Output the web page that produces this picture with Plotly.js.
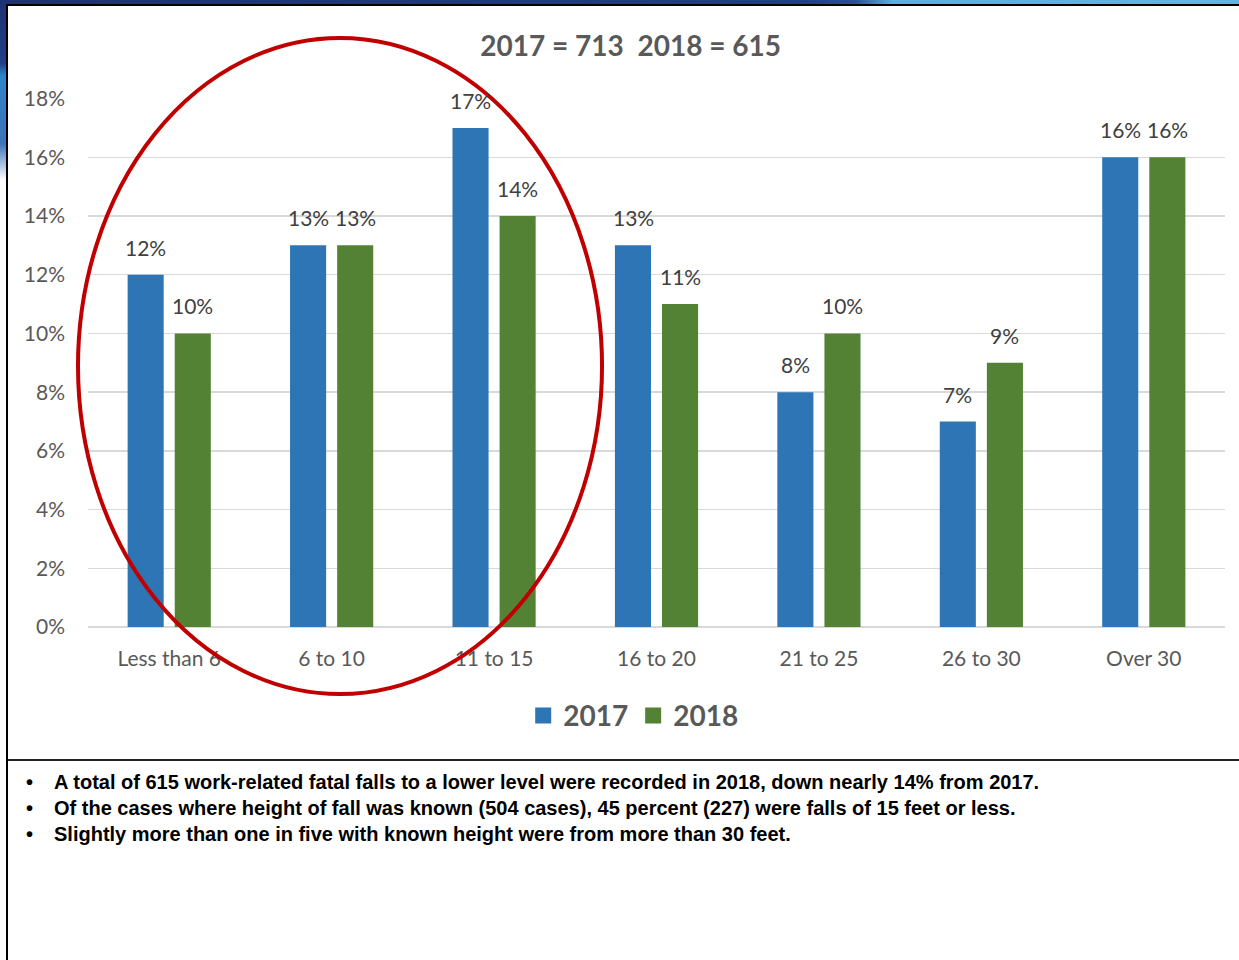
<!DOCTYPE html>
<html>
<head>
<meta charset="utf-8">
<script src="https://cdn.plot.ly/plotly-3.0.1.min.js"></script>
<style>
  html, body { margin:0; padding:0; width:1239px; height:960px; overflow:hidden; background:#fff; }
  #chart { position:absolute; left:0; top:0; width:1239px; height:960px; }
  .strip-top { position:absolute; left:0; top:0; width:1239px; height:5px;
    background: linear-gradient(90deg, #1d3272 0%, #203f86 65%, #2a4f95 69%, #5aaee0 72%, #62b4e4 100%); z-index:5; }
  .strip-left { position:absolute; left:0; top:0; width:7px; height:180px;
    background: linear-gradient(180deg, #1d3272 0%, #213f86 35%, #2b86c8 42%, #3f73b8 80%, #ffffff 100%); z-index:5; }
  .line-top { position:absolute; left:6px; top:4px; width:1233px; height:2px; background:#000; z-index:6; }
  .line-left { position:absolute; left:6px; top:4px; width:2px; height:956px; background:#000; z-index:6; }
  .line-mid { position:absolute; left:8px; top:759px; width:1231px; height:2px; background:#222; z-index:6; }
  ul.notes { position:absolute; left:24px; top:769px; margin:0; padding:0; list-style:none; z-index:6;
    font-family:"Liberation Sans Narrow","Arial Narrow","Liberation Sans",sans-serif; font-weight:bold;
    font-size:20px; color:#000; line-height:26px; }
  ul.notes li { position:relative; padding-left:30px; white-space:nowrap; }
  ul.notes li::before { content:"•"; position:absolute; left:2px; top:0; }
</style>
</head>
<body>
<div id="chart"></div>
<div class="strip-top"></div>
<div class="strip-left"></div>
<div class="line-top"></div>
<div class="line-left"></div>
<div class="line-mid"></div>
<ul class="notes">
  <li>A total of 615 work-related fatal falls to a lower level were recorded in 2018, down nearly 14% from 2017.</li>
  <li>Of the cases where height of fall was known (504 cases), 45 percent (227) were falls of 15 feet or less.</li>
  <li>Slightly more than one in five with known height were from more than 30 feet.</li>
</ul>
<script>
// ---- data ----
const categories = ["Less than 6", "6 to 10", "11 to 15", "16 to 20", "21 to 25", "26 to 30", "Over 30"];
const values2017 = [12, 13, 17, 13, 8, 7, 16];
const values2018 = [10, 13, 14, 11, 10, 9, 16];
const seriesNames = ["2017", "2018"];
const yTickValues = [0, 2, 4, 6, 8, 10, 12, 14, 16, 18];
const yTickLabels = ["0%", "2%", "4%", "6%", "8%", "10%", "12%", "14%", "16%", "18%"];
const chartTitle = "2017 = 713  2018 = 615";

// ---- styles ----
const BLUE = "#2e75b6";
const GREEN = "#548235";
const FONT = "Lato, 'Open Sans', sans-serif";
const colors = [BLUE, GREEN];

const traces = [
  { type: "bar", name: seriesNames[0], x: categories, y: values2017,
    marker: { color: BLUE }, hoverinfo: "skip", showlegend: false },
  { type: "bar", name: seriesNames[1], x: categories, y: values2018,
    marker: { color: GREEN }, hoverinfo: "skip", showlegend: false }
];
// legend entries (square keys); a single empty point so nothing is plotted
seriesNames.forEach((n, s) => {
  traces.push({ type: "scatter", mode: "markers", name: n, x: [categories[0]], y: [null],
    marker: { symbol: "square", size: 17, color: colors[s] }, showlegend: true, hoverinfo: "skip" });
});

const labelAnn = [];
[values2017, values2018].forEach((vals, s) => {
  vals.forEach((v, i) => {
    labelAnn.push({
      x: categories[i], y: v, xref: "x", yref: "y",
      text: v + "%", showarrow: false,
      xshift: s === 0 ? -23.5 : 23.5, yshift: 27.5,
      yanchor: "middle", xanchor: "center",
      font: { family: FONT, size: 21, color: "#404040" }
    });
  });
});

const layout = {
  width: 1239, height: 960,
  margin: { l: 88, r: 14, t: 98, b: 333 },
  paper_bgcolor: "#ffffff", plot_bgcolor: "#ffffff",
  barmode: "group", bargap: 0.42, bargroupgap: 0.234,
  title: { text: chartTitle, xref: "container", yref: "container",
    x: 0.509, y: 1 - 46 / 960, xanchor: "center", yanchor: "middle",
    font: { family: FONT, size: 28, color: "#595959", weight: "bold" } },
  xaxis: { type: "category", showgrid: false, zeroline: false,
    showline: false, ticks: "", ticklabelstandoff: 17,
    tickfont: { family: FONT, size: 21, color: "#595959" } },
  yaxis: { range: [0, 18.02], tickvals: yTickValues, ticktext: yTickLabels,
    showgrid: true, gridcolor: "#d9d9d9", gridwidth: 1.5,
    zeroline: true, zerolinecolor: "#d9d9d9", zerolinewidth: 2,
    showline: false, ticks: "", ticklabelstandoff: 22,
    tickfont: { family: FONT, size: 21, color: "#595959" } },
  showlegend: true,
  legend: { orientation: "h", x: 0.4795, xanchor: "center", y: -0.168, yanchor: "middle",
    font: { family: FONT, size: 28, color: "#595959", weight: "bold" },
    itemclick: false, itemdoubleclick: false, traceorder: "normal" },
  annotations: labelAnn,
  shapes: [
    { type: "circle", xref: "paper", yref: "paper",
      x0: -0.0088, x1: 0.4521, y0: -0.1267, y1: 1.1134,
      line: { color: "#c00000", width: 4 }, layer: "above" }
  ]
};

Plotly.newPlot("chart", traces, layout, { displayModeBar: false, staticPlot: true });
</script>
</body>
</html>
